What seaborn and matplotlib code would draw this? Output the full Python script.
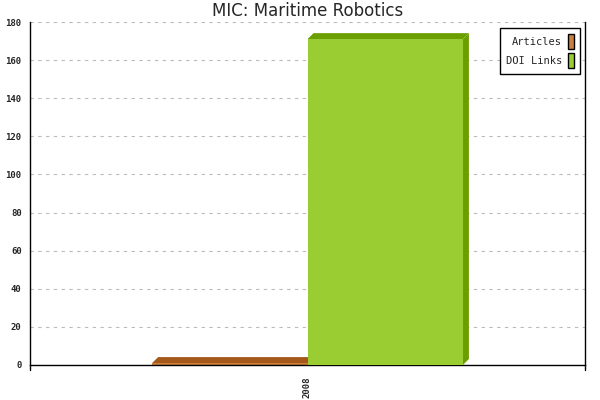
import numpy as np
import pandas as pd
import matplotlib
matplotlib.use("Agg")
import matplotlib.pyplot as plt
from matplotlib.patches import Polygon, Rectangle
from matplotlib.transforms import IdentityTransform
import seaborn as sns

# data
years = ["2008"]
series = ["Articles", "DOI Links"]
articles = [1]
doi_links = [171]

front_colors = ["#cd7f3d", "#9acd32"]
side_colors = ["#a4581a", "#6b9e00"]

df = pd.DataFrame({
    "Year": years * 2,
    "Series": ["Articles"] * len(years) + ["DOI Links"] * len(years),
    "Count": articles + doi_links,
})

sns.set_style("white")
plt.rcParams["font.family"] = ["DejaVu Sans"]

fig = plt.figure(figsize=(6, 4), dpi=100)
ax = fig.add_axes([0.05, 0.0875, 0.925, 0.8575])

sns.barplot(
    data=df, x="Year", y="Count", hue="Series",
    palette=front_colors, width=0.56, ax=ax,
    saturation=1, linewidth=0, legend=False,
)

ax.set_xlim(-0.5, 0.5)
ax.set_ylim(0, 180)
ax.set_yticks(np.arange(0, 181, 20))
ax.yaxis.grid(True, linestyle=(0, (3, 4)), color="#bbbbbb", linewidth=0.8)
ax.set_axisbelow(True)

ax.spines["top"].set_visible(False)
for side in ["left", "bottom", "right"]:
    ax.spines[side].set_color("black")
    ax.spines[side].set_linewidth(1)
    ax.spines[side].set_clip_on(False)

ax.tick_params(axis="y", direction="inout", length=8, width=1, labelsize=6.5, pad=2)
ax.tick_params(axis="x", direction="out", length=5, width=1,
               labelsize=6.5, labelrotation=90, pad=3)
for lab in ax.get_yticklabels() + ax.get_xticklabels():
    lab.set_family("DejaVu Sans Mono")
    lab.set_fontweight("bold")
ax.set_xlabel("")
ax.set_ylabel("")
ax.set_title("MIC: Maritime Robotics", fontsize=12, pad=4)

# 3D depth on the bars; later series sits in front of earlier ones
fig.canvas.draw()
d = 6
bars = [p for p in ax.patches if isinstance(p, Rectangle) and p.get_height() > 0]
bars = sorted(bars, key=lambda p: p.get_x())
for i, (bar, sc) in enumerate(zip(bars, side_colors)):
    z = 2 + i
    bar.set_zorder(z + 0.5)
    x0, y0 = ax.transData.transform((bar.get_x(), 0))
    x1, y1 = ax.transData.transform((bar.get_x() + bar.get_width(), bar.get_height()))
    top = Polygon([(x0, y1), (x1, y1), (x1 + d, y1 + d), (x0 + d, y1 + d)],
                  closed=True, facecolor=sc, edgecolor="none",
                  transform=IdentityTransform(), clip_on=False, zorder=z)
    side = Polygon([(x1, y0), (x1 + d, y0 + d), (x1 + d, y1 + d), (x1, y1)],
                   closed=True, facecolor=sc, edgecolor="none",
                   transform=IdentityTransform(), clip_on=False, zorder=z)
    ax.add_artist(top)
    ax.add_artist(side)

# small tick marks at both ends of the category axis
ax.plot([-0.5, -0.5], [0, -2.6], color="black", lw=1, clip_on=False)
ax.plot([0.5, 0.5], [0, -2.6], color="black", lw=1, clip_on=False)

handles = [Rectangle((0, 0), 1, 1, facecolor=c, edgecolor="black", linewidth=1)
           for c in front_colors]
leg = ax.legend(handles, series, loc="upper right", bbox_to_anchor=(0.991, 0.982),
                borderaxespad=0, markerfirst=False, handlelength=0.6,
                handleheight=1.8, handletextpad=0.5, borderpad=0.6,
                labelspacing=0.35, fancybox=False, framealpha=1,
                edgecolor="black",
                prop={"family": "DejaVu Sans Mono", "size": 7.5})
leg.get_frame().set_linewidth(1)
leg.set_zorder(10)

fig.savefig("out.png", dpi=100)
